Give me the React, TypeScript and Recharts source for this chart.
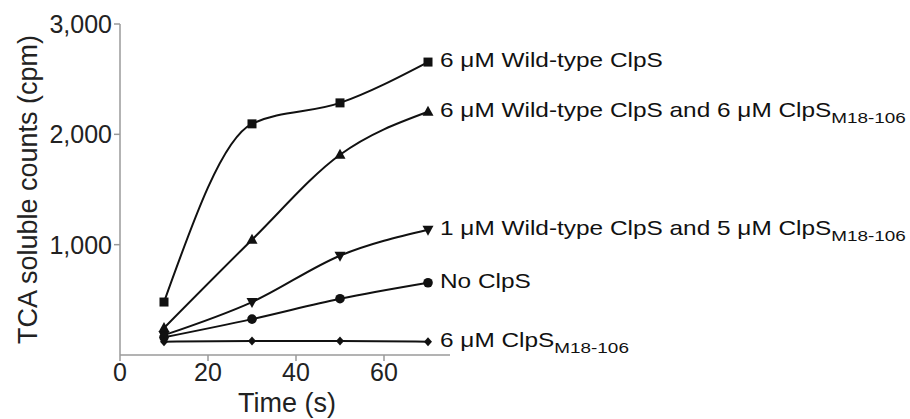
import React from 'react';
import { LineChart, Line, XAxis, YAxis, LabelList } from 'recharts';

const times = [10, 30, 50, 70];
const wildType6 = [480, 2095, 2285, 2655];
const wildType6Mut6 = [245, 1045, 1815, 2205];
const wildType1Mut5 = [180, 480, 900, 1135];
const noClps = [160, 325, 510, 655];
const mut6 = [120, 127, 127, 120];

const xTicks = [0, 20, 40, 60];
const yTicks = [1000, 2000, 3000];

const FONT = '"Liberation Sans", Arial, Helvetica, sans-serif';
const INK = '#111';
const AXIS = '#9a9a9a';

type Shape = 'square' | 'triUp' | 'triDown' | 'circle' | 'diamond';

interface Series {
  key: string;
  values: number[];
  shape: Shape;
  label: string;
  sub?: string;
}

const series: Series[] = [
  { key: 'wt6', values: wildType6, shape: 'square', label: '6 \u03bcM Wild-type ClpS' },
  { key: 'wt6m6', values: wildType6Mut6, shape: 'triUp', label: '6 \u03bcM Wild-type ClpS and 6 \u03bcM ClpS', sub: 'M18-106' },
  { key: 'wt1m5', values: wildType1Mut5, shape: 'triDown', label: '1 \u03bcM Wild-type ClpS and 5 \u03bcM ClpS', sub: 'M18-106' },
  { key: 'none', values: noClps, shape: 'circle', label: 'No ClpS' },
  { key: 'm6', values: mut6, shape: 'diamond', label: '6 \u03bcM ClpS', sub: 'M18-106' },
];

const data = times.map((t, i) => {
  const row: { [k: string]: number } = { t };
  series.forEach((s) => {
    row[s.key] = s.values[i];
  });
  return row;
});

const makeDot = (shape: Shape) => (props: any) => {
  const { cx, cy, index } = props;
  const k = `${shape}-${index}`;
  if (cx == null || cy == null) return <g key={k} />;
  switch (shape) {
    case 'square':
      return <rect key={k} x={cx - 4.5} y={cy - 4.5} width={9} height={9} fill={INK} />;
    case 'triUp':
      return <polygon key={k} points={`${cx},${cy - 6} ${cx - 5.5},${cy + 4} ${cx + 5.5},${cy + 4}`} fill={INK} />;
    case 'triDown':
      return <polygon key={k} points={`${cx},${cy + 6} ${cx - 5.5},${cy - 4} ${cx + 5.5},${cy - 4}`} fill={INK} />;
    case 'circle':
      return <circle key={k} cx={cx} cy={cy} r={4.8} fill={INK} />;
    default:
      return <polygon key={k} points={`${cx},${cy - 4.5} ${cx + 4},${cy} ${cx},${cy + 4.5} ${cx - 4},${cy}`} fill={INK} />;
  }
};

const makeLabel = (s: Series) => (props: any) => {
  const { x, y, index } = props;
  if (index !== times.length - 1) return null;
  return (
    <text
      transform={`translate(${x + 12},${y + 5}) scale(1.22,1)`}
      fontFamily={FONT}
      fontSize={20}
      fill={INK}
    >
      {s.label}
      {s.sub && (
        <tspan dy={6} fontSize={15.5}>
          {s.sub}
        </tspan>
      )}
    </text>
  );
};

const YTitle = (props: any) => {
  const { viewBox } = props;
  const cy = viewBox.y + viewBox.height / 2;
  return (
    <text
      transform={`translate(${viewBox.x - 3},${cy}) rotate(-90)`}
      textAnchor="middle"
      fontFamily={FONT}
      fontSize={27}
      fill="#222"
    >
      TCA soluble counts (cpm)
    </text>
  );
};

const XTitle = (props: any) => {
  const { viewBox } = props;
  return (
    <text
      x={viewBox.x + viewBox.width / 2 + 2}
      y={viewBox.y + 57}
      textAnchor="middle"
      fontFamily={FONT}
      fontSize={27}
      fill="#222"
    >
      Time (s)
    </text>
  );
};

const App: React.FC = () => (
  <div style={{ position: 'absolute', left: 0, top: 0, width: 910, height: 419, background: '#fff' }}>
    <LineChart width={910} height={419} data={data} margin={{ top: 24, right: 460, left: 40, bottom: 0 }}>
      <XAxis
        dataKey="t"
        type="number"
        domain={[0, 75]}
        ticks={xTicks}
        allowDataOverflow
        stroke={AXIS}
        strokeWidth={1.5}
        tickSize={6}
        height={64}
        tick={{ fill: '#222', fontSize: 25, fontFamily: FONT }}
        label={<XTitle />}
      />
      <YAxis
        type="number"
        domain={[0, 3000]}
        ticks={yTicks}
        width={80}
        stroke={AXIS}
        strokeWidth={1.5}
        tickSize={6}
        tickFormatter={(v: number) => v.toLocaleString('en-US')}
        tick={{ fill: '#222', fontSize: 25, fontFamily: FONT }}
        label={<YTitle />}
      />
      {series.map((s) => (
        <Line
          key={s.key}
          dataKey={s.key}
          type="monotone"
          stroke={INK}
          strokeWidth={2}
          dot={makeDot(s.shape)}
          activeDot={false}
          isAnimationActive={false}
        >
          <LabelList dataKey={s.key} content={makeLabel(s)} />
        </Line>
      ))}
    </LineChart>
  </div>
);

export default App;
